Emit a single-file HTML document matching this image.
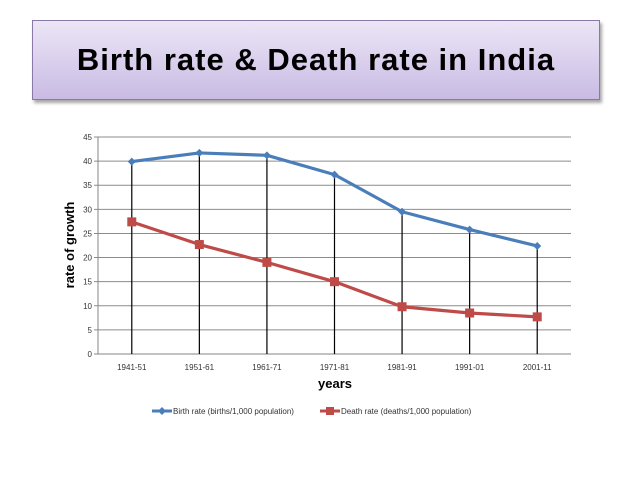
<!DOCTYPE html>
<html><head><meta charset="utf-8"><style>
body{margin:0;background:#fff;width:638px;height:479px;overflow:hidden;font-family:"Liberation Sans",sans-serif}
#title{position:absolute;left:32px;top:20px;width:568px;height:80px;box-sizing:border-box;border:1px solid #8a78a8;background:linear-gradient(#ece6f6,#c9bbe4);box-shadow:2px 3px 3px rgba(0,0,0,0.35);text-align:center;line-height:78px;font-size:31px;font-weight:bold;letter-spacing:1px;color:#000}
svg{position:absolute;left:0;top:0}
</style></head><body>
<div id="title">Birth rate &amp; Death rate in India</div>
<svg id="chart" width="638" height="479"></svg>
<script>
const categories=["1941-51","1951-61","1961-71","1971-81","1981-91","1991-01","2001-11"];
const birthRate=[39.9,41.7,41.2,37.2,29.5,25.8,22.4];
const deathRate=[27.4,22.7,19.0,15.0,9.8,8.5,7.7];
const yTicks=[0,5,10,15,20,25,30,35,40,45];
const svg=document.getElementById('chart');
const NS='http://www.w3.org/2000/svg';
const L=98,R=571,T=137,B=354,yMax=45;
const x=i=>L+(R-L)/categories.length*(i+0.5);
const y=v=>B-(B-T)*v/yMax;
function mk(t,a,p){const e=document.createElementNS(NS,t);for(const k in a)e.setAttribute(k,a[k]);(p||svg).appendChild(e);return e;}
yTicks.forEach(v=>{
 const g=mk('line',{x1:L-4,x2:R,y1:y(v),y2:y(v),stroke:v===0?'#868686':'#8c8c8c','stroke-width':1});
 
 
 const t=mk('text',{x:L-6,y:y(v)+3,'text-anchor':'end','font-size':8,fill:'#333'});
 t.textContent=v;
 
 
});
mk('line',{x1:L,x2:L,y1:T,y2:B,stroke:'#868686'});
categories.forEach((c,i)=>{
 const d=mk('line',{x1:x(i),x2:x(i),y1:y(birthRate[i]),y2:B,stroke:'#000','stroke-width':1.2});
 
 
 const t=mk('text',{x:x(i),y:B+16,'text-anchor':'middle','font-size':8,fill:'#333'});
 t.textContent=c;
 
 
});
function series(vals,color,name,marker){
 const p=mk('polyline',{points:vals.map((v,i)=>x(i)+','+y(v)).join(' '),fill:'none',stroke:color,'stroke-width':3.2,'stroke-linejoin':'round'});
 
 
 vals.forEach((v,i)=>{
  let m;
  if(marker==='diamond')m=mk('polygon',{points:`${x(i)},${y(v)-4} ${x(i)+4},${y(v)} ${x(i)},${y(v)+4} ${x(i)-4},${y(v)}`,fill:color});
  else m=mk('rect',{x:x(i)-4.5,y:y(v)-4.5,width:9,height:9,fill:color});
  
  
 });
}
series(birthRate,'#4a7ebb','birth-rate','diamond');
series(deathRate,'#be4b48','death-rate','square');
const yl=mk('text',{x:0,y:0,transform:'translate(74,245) rotate(-90)','text-anchor':'middle','font-size':13,'font-weight':'bold',fill:'#000'});
yl.textContent='rate of growth';


const xl=mk('text',{x:335,y:388,'text-anchor':'middle','font-size':13,'font-weight':'bold',fill:'#000'});
xl.textContent='years';


[[152,'#4a7ebb','Birth rate (births/1,000 population)','diamond'],[320,'#be4b48','Death rate (deaths/1,000 population)','square']].forEach(([lx,c,txt,m])=>{
 const g=mk('g',{});
 
 
 mk('line',{x1:lx,x2:lx+20,y1:411,y2:411,stroke:c,'stroke-width':3},g);
 if(m==='diamond')mk('polygon',{points:`${lx+10},407 ${lx+14},411 ${lx+10},415 ${lx+6},411`,fill:c},g);
 else mk('rect',{x:lx+6,y:407,width:8,height:8,fill:c},g);
 const t=mk('text',{x:lx+21,y:414,'font-size':8,fill:'#333'},g);
 t.textContent=txt;
});
</script>
</body></html>
